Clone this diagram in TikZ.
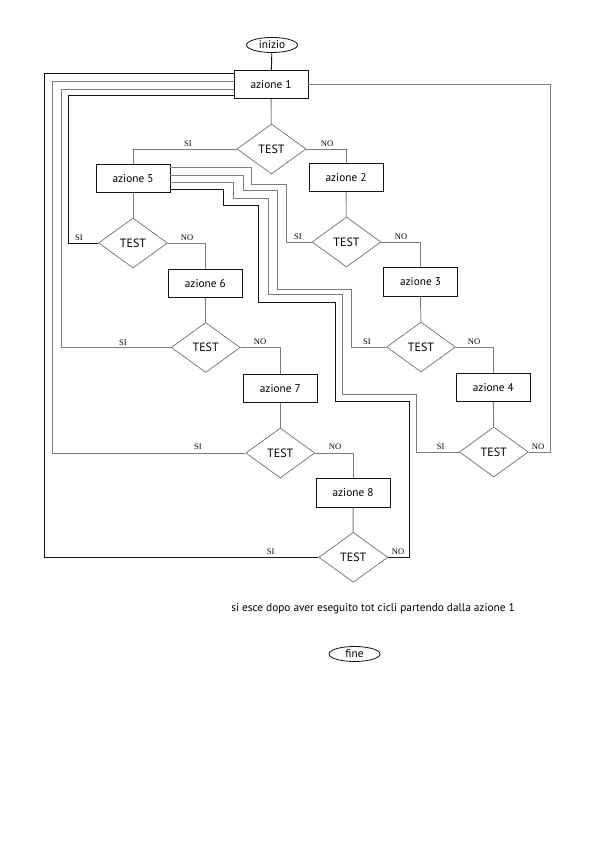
\documentclass[tikz,border=0pt]{standalone}
\usepackage{fontspec}
\setmainfont{PT Sans}
\newfontfamily\labfont{Liberation Serif}
\usepackage{xcolor}
\definecolor{Col1}{RGB}{20,20,20}
\definecolor{Col2}{RGB}{125,125,125}
\usepackage{tikz}
\usetikzlibrary{shapes}
\tikzstyle{Box}=[rectangle,draw=Col1,line width=0.9pt,minimum width=74pt,
minimum height=28.5pt,inner sep=0pt,font=\fontsize{11.3}{13}\selectfont]
\tikzstyle{Test}=[diamond,draw=Col2,line width=0.8pt,minimum width=69pt,
minimum height=50pt,inner sep=0pt,font=\fontsize{12}{13}\selectfont]
\tikzstyle{Term}=[ellipse,draw=Col1,line width=0.8pt,minimum width=51pt,
minimum height=15pt,inner sep=0pt,font=\fontsize{11.3}{13}\selectfont]
\tikzstyle{Edge}=[draw=Col2,line width=0.9pt]
\tikzstyle{EdgeK}=[draw=Col1,line width=0.9pt]
\tikzstyle{NodeLab}=[inner sep=0pt,font=\labfont\fontsize{8.5}{9}\selectfont]
\tikzstyle{NodeNote}=[inner sep=0pt,font=\fontsize{11.3}{13}\selectfont]

\begin{document}
\begin{tikzpicture}[x=1pt,y=-1pt]
        \useasboundingbox[fill=white](0,0)rectangle(595,842);
        \node[Term](ini)at(272.0,45.0){inizio};
        \node[Box](a1)at(271.0,84.5){azione 1};
        \node[Test](t1)at(271.5,149.0){TEST};
        \node[Box](a5)at(133.0,178.5){azione 5};
        \node[Box](a2)at(346.0,177.5){azione 2};
        \node[Test](t5)at(133.0,243.0){TEST};
        \node[Test](t2)at(346.5,242.0){TEST};
        \node[Box](a6)at(205.3,283.3){azione 6};
        \node[Box](a3)at(420.5,282.0){azione 3};
        \node[Test](t6)at(205.7,347.5){TEST};
        \node[Test](t3)at(421.0,347.0){TEST};
        \node[Box](a7)at(280.3,388.3){azione 7};
        \node[Box](a4)at(493.3,387.5){azione 4};
        \node[Test](t7)at(280.3,453.0){TEST};
        \node[Test](t4)at(493.8,452.0){TEST};
        \node[Box](a8)at(353.0,493.0){azione 8};
        \node[Test](t8)at(353.3,557.3){TEST};
        \node[NodeNote](note)at(373.0,609.0){si esce dopo aver eseguito tot cicli partendo dalla azione 1};
        \node[Term](fin)at(354.5,654.0){fine};
        \node[NodeLab](s1)at(188.0,143.5){SI};
        \node[NodeLab](n1)at(327.0,143.5){NO};
        \node[NodeLab](s5)at(79.0,237.5){SI};
        \node[NodeLab](n5)at(187.0,237.5){NO};
        \node[NodeLab](s2)at(298.0,237.0){SI};
        \node[NodeLab](n2)at(401.0,237.0){NO};
        \node[NodeLab](s6)at(123.0,343.0){SI};
        \node[NodeLab](n6)at(260.0,342.0){NO};
        \node[NodeLab](s3)at(367.0,342.0){SI};
        \node[NodeLab](n3)at(474.0,342.0){NO};
        \node[NodeLab](s7)at(198.0,446.5){SI};
        \node[NodeLab](n7)at(335.0,447.0){NO};
        \node[NodeLab](s4)at(440.7,447.0){SI};
        \node[NodeLab](n4)at(538.0,447.0){NO};
        \node[NodeLab](s8)at(270.7,552.0){SI};
        \node[NodeLab](n8)at(398.0,552.0){NO};
        \draw[EdgeK](ini)--(a1);
        \draw[Edge](a1)--(t1);
        \draw[Edge](t1.west)-|(a5.north);
        \draw[Edge](t1.east)-|(a2.north);
        \draw[Edge](a5)--(t5);
        \draw[Edge](a2)--(t2);
        \draw[Edge](t5.east)-|(a6.north);
        \draw[Edge](t2.east)-|(a3.north);
        \draw[Edge](a6)--(t6);
        \draw[Edge](a3)--(t3);
        \draw[Edge](t6.east)-|(a7.north);
        \draw[Edge](t3.east)-|(a4.north);
        \draw[Edge](a7)--(t7);
        \draw[Edge](a4)--(t4);
        \draw[Edge](t7.east)-|(a8.north);
        \draw[Edge](a8)--(t8);
        % ritorno ad azione 1
        \draw[EdgeK](t5.west)-|(68.5,95.7)--(a1.west|-0,95.7);
        \draw[Edge](t6.west)-|(61.0,89.3)--(a1.west|-0,89.3);
        \draw[Edge](t7.west)-|(52.5,81.7)--(a1.west|-0,81.7);
        \draw[EdgeK](t8.west)-|(44.3,73.3)--(a1.west|-0,73.3);
        \draw[Edge](t4.east)-|(550.0,84.5)--(a1.east);
        % ritorno ad azione 5
        \draw[Edge](a5.east|-0,167.0)-|(251.0,184.0)-|(286.3,242.0)--(t2.west);
        \draw[Edge](a5.east|-0,175.0)-|(243.3,190.7)-|(277.7,289.0)-|(351.0,347.0)--(t3.west);
        \draw[Edge](a5.east|-0,182.5)-|(233.0,198.5)-|(268.3,294.0)-|(342.7,394.3)-|(416.7,452.0)--(t4.west);
        \draw[EdgeK](a5.east|-0,189.3)-|(223.5,205.0)-|(258.5,302.0)-|(335.0,401.0)-|(409.3,557.3)--(t8.east);
    \end{tikzpicture}
\end{document}
